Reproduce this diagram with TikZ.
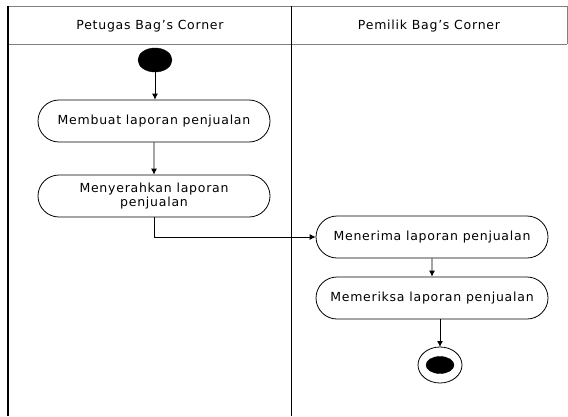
\documentclass[tikz,border=0pt]{standalone}
\usepackage{fontspec}
\setmainfont{DejaVu Sans}
\newfontfamily\umlfont[LetterSpace=6]{DejaVu Sans}
\usetikzlibrary{shapes.misc,arrows.meta}

\tikzset{
  action/.style={rounded rectangle, draw, line width=0.8pt, minimum width=236pt, minimum height=42pt, inner sep=2pt, align=center, font=\umlfont\fontsize{12.5}{14}\selectfont},
  flow/.style={line width=0.8pt, -{Latex[length=6pt,width=6pt]}},
  lane/.style={font=\umlfont\fontsize{12.5}{14}\selectfont}
}

\begin{document}
\begin{tikzpicture}[x=1pt,y=-1pt]
   \useasboundingbox (0,0) rectangle (568,416);
   \coordinate (tl) at (8,6);
   \coordinate (tr) at (567,6);
   \coordinate (bl) at (8,416);
   \coordinate (hl) at (8,44);
   \coordinate (hr) at (567,44);
   \coordinate (dt) at (291,6);
   \coordinate (db) at (291,416);
   % swimlanes
   \draw [gray, line width=0.8pt] (tl) -- (tr) -- (hr);
   \draw [gray, line width=0.8pt] (hl) -- (hr);
   \draw [line width=1.2pt] (tl) -- (bl);
   \draw [line width=0.8pt] (dt) -- (db);
   \node [lane] (petugas) at (150,26) {Petugas Bag’s Corner};
   \node [lane] (pemilik) at (429,26) {Pemilik Bag’s Corner};

   % activities
   \draw [fill=black] (155,60) ellipse (17 and 12);
   \coordinate (start) at (155,72);
   \node [action] (membuat) at (154,121) {Membuat laporan penjualan};
   \node [action] (serah) at (154,196) {Menyerahkan laporan\\penjualan};
   \node [action] (terima) at (432,237) {Menerima laporan penjualan};
   \node [action] (periksa) at (432,298) {Memeriksa laporan penjualan};
   \draw [line width=0.8pt] (440,365) ellipse (22 and 18);
   \draw [fill=black] (440,365) ellipse (14 and 8.5);
   \coordinate (end) at (440,347);

   \draw [flow] (start) -- (start |- membuat.north);
   \draw [flow] (membuat) -- (serah);
   \draw [flow] (serah.south) |- (terima.west);
   \draw [flow] (terima) -- (periksa);
   \draw [flow] (end |- periksa.south) -- (end);
\end{tikzpicture}
\end{document}
